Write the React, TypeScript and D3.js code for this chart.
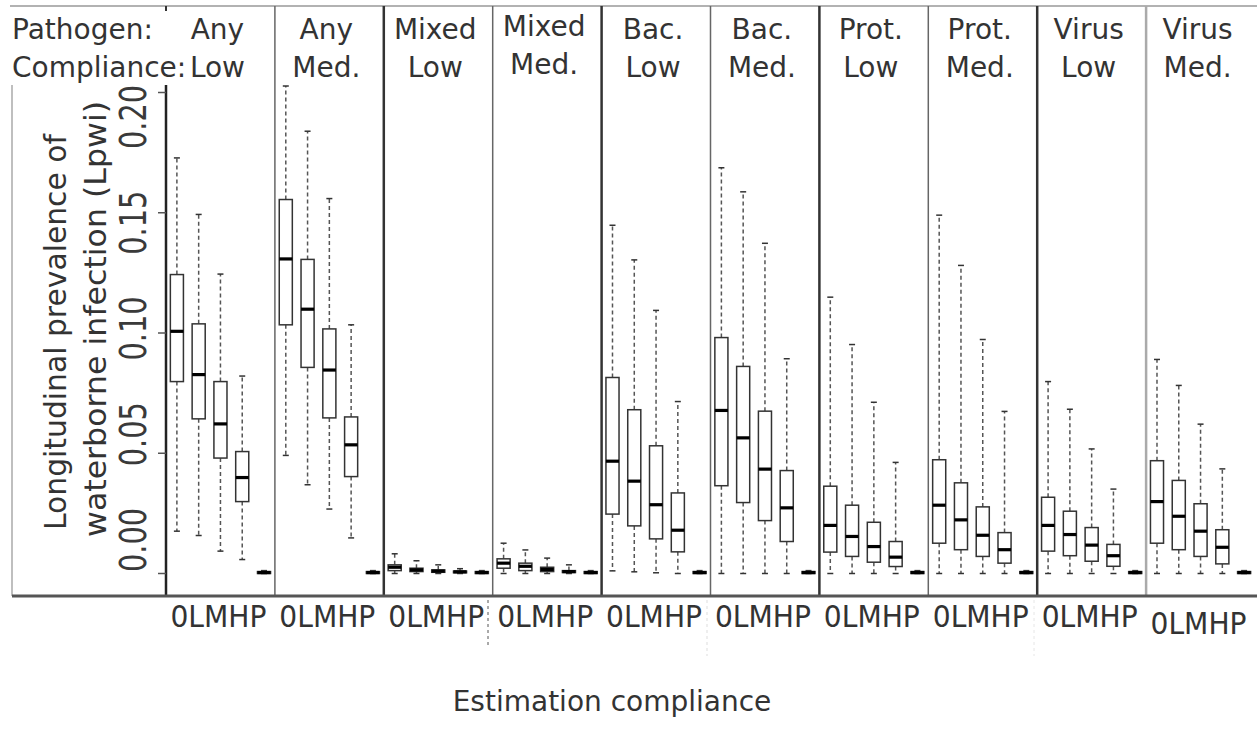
import React from "react";
import * as d3 from "d3";

// ---- data ----
const pathogens = ["Any", "Any", "Mixed", "Mixed", "Bac.", "Bac.", "Prot.", "Prot.", "Virus", "Virus"];
const compliances = ["Low", "Med.", "Low", "Med.", "Low", "Med.", "Low", "Med.", "Low", "Med."];
const levels = ["0", "L", "M", "H", "P"];
const yTicks = [0, 0.05, 0.1, 0.15, 0.2];

// each box: [lower whisker, Q1, median, Q3, upper whisker]
const pBox = [0, 0, 0.0004, 0.0008, 0.0012];
const anyLow = [
  [0.0176, 0.0798, 0.1007, 0.1243, 0.1728],
  [0.0158, 0.0643, 0.0827, 0.1038, 0.1493],
  [0.0093, 0.048, 0.0622, 0.0798, 0.1245],
  [0.0058, 0.0299, 0.0399, 0.0507, 0.0821],
  pBox,
];
const anyMed = [
  [0.0491, 0.1034, 0.1308, 0.1555, 0.2027],
  [0.0369, 0.0857, 0.1099, 0.1306, 0.1839],
  [0.0268, 0.0647, 0.0846, 0.1017, 0.1559],
  [0.0148, 0.0403, 0.0535, 0.0651, 0.1034],
  pBox,
];
const mixedLow = [
  [0, 0.0012, 0.0026, 0.0036, 0.0082],
  [0, 0.0008, 0.0015, 0.0022, 0.0053],
  [0, 0.0005, 0.001, 0.0015, 0.0036],
  [0, 0.0003, 0.0007, 0.001, 0.002],
  pBox,
];
const mixedMed = [
  [0, 0.0022, 0.0043, 0.0061, 0.0126],
  [0, 0.0012, 0.003, 0.0043, 0.0098],
  [0, 0.0008, 0.0017, 0.0026, 0.0064],
  [0, 0.0004, 0.0008, 0.0012, 0.0036],
  pBox,
];
const bacLow = [
  [0.0011, 0.0247, 0.0467, 0.0815, 0.1448],
  [0.0007, 0.0198, 0.0384, 0.0681, 0.1304],
  [0.0003, 0.0144, 0.0286, 0.0531, 0.1094],
  [0, 0.009, 0.018, 0.0335, 0.0715],
  pBox,
];
const bacMed = [
  [0, 0.0365, 0.0678, 0.0981, 0.1687],
  [0, 0.0295, 0.0564, 0.0861, 0.1587],
  [0, 0.022, 0.0434, 0.0675, 0.1373],
  [0, 0.0133, 0.0273, 0.0428, 0.0893],
  pBox,
];
const protLow = [
  [0, 0.0089, 0.02, 0.0363, 0.1149],
  [0, 0.0071, 0.0154, 0.0284, 0.0952],
  [0, 0.0047, 0.0112, 0.0213, 0.0712],
  [0, 0.0029, 0.0068, 0.0133, 0.0462],
  pBox,
];
const protMed = [
  [0, 0.0126, 0.0284, 0.0473, 0.149],
  [0, 0.0099, 0.0223, 0.0377, 0.1281],
  [0, 0.0071, 0.0159, 0.0277, 0.0973],
  [0, 0.0043, 0.0099, 0.017, 0.0674],
  pBox,
];
const virusLow = [
  [0, 0.0093, 0.02, 0.0317, 0.0798],
  [0, 0.0074, 0.0162, 0.0259, 0.0683],
  [0, 0.0051, 0.0118, 0.0191, 0.0518],
  [0, 0.003, 0.0074, 0.0121, 0.0351],
  pBox,
];
const virusMed = [
  [0, 0.0126, 0.0299, 0.0469, 0.089],
  [0, 0.0099, 0.0238, 0.0387, 0.0782],
  [0, 0.0071, 0.0176, 0.029, 0.0621],
  [0, 0.004, 0.0109, 0.0182, 0.0435],
  pBox,
];
const panelData = [anyLow, anyMed, mixedLow, mixedMed, bacLow, bacMed, protLow, protMed, virusLow, virusMed];

// ---- layout ----
const W = 1257;
const H = 744;
const TXT = "#333";
const FONT = "'DejaVu Sans', sans-serif";
const CFONT = "'DejaVu Sans Condensed', 'DejaVu Sans', sans-serif";

export default function App() {
  const panelX = d3.scaleBand<number>().domain(d3.range(panelData.length)).range([166, 1255]);
  const boxX = d3
    .scaleBand<string>()
    .domain(levels)
    .range([0, panelX.bandwidth()])
    .paddingInner(0.4)
    .paddingOuter(0.2);
  const y = d3.scaleLinear().domain([0, 0.2]).range([573.5, 92.5]);
  const yLab = d3.scaleLinear().domain([0, 0.2]).range([540, 117]);
  const fmt = d3.format(".2f");
  const bw = boxX.bandwidth();
  const cap = 6;
  const bottomY = 596;

  return (
    <svg
      width={W}
      height={H}
      style={{ position: "absolute", left: 0, top: 0, background: "#fff" }}
      xmlns="http://www.w3.org/2000/svg"
    >
      <rect x={0} y={0} width={W} height={H} fill="#fff" />
      {/* frame lines */}
      <line x1={10} x2={W} y1={6} y2={6} stroke="#999" strokeWidth={1.5} />
      <line x1={12} x2={12} y1={85} y2={bottomY} stroke="#aaa" strokeWidth={1.5} />
      <line x1={166} x2={166} y1={6} y2={11} stroke="#333" strokeWidth={2} />

      {/* panel dividers */}
      {d3.range(1, panelData.length).map((i) => {
        const x = panelX(i)!;
        const dark = i % 2 === 0;
        return (
          <line
            key={"div" + i}
            x1={x}
            x2={x}
            y1={6}
            y2={bottomY}
            stroke={i === 9 ? "#aaa" : dark ? "#333" : "#666"}
            strokeWidth={dark ? 2.5 : i === 9 ? 2.5 : 1.5}
          />
        );
      })}

      {/* y axis */}
      <line x1={166} x2={166} y1={85} y2={bottomY} stroke="#222" strokeWidth={2.5} />
      {yTicks.map((t) => (
        <g key={"t" + t}>
          <line x1={158} x2={166} y1={y(t)} y2={y(t)} stroke="#555" strokeWidth={1.5} />
          <text
            transform={`translate(146,${yLab(t)}) rotate(-90)`}
            textAnchor="middle"
            fontFamily={CFONT}
            fontSize={37}
            fill="#3a3a3a"
            textLength={64}
            lengthAdjust="spacingAndGlyphs"
          >
            {fmt(t)}
          </text>
        </g>
      ))}

      {/* y title */}
      <text
        transform="translate(66,332) rotate(-90)"
        textAnchor="middle"
        fontFamily={FONT}
        fontSize={30}
        fill={TXT}
        textLength={396}
        lengthAdjust="spacingAndGlyphs"
      >
        Longitudinal prevalence of
      </text>
      <text
        transform="translate(106,319) rotate(-90)"
        textAnchor="middle"
        fontFamily={FONT}
        fontSize={31}
        fill={TXT}
        textLength={436}
        lengthAdjust="spacingAndGlyphs"
      >
        waterborne infection (Lpwi)
      </text>

      {/* header */}
      <text x={12} y={39} fontFamily={FONT} fontSize={28} fill={TXT}>
        Pathogen:
      </text>
      <text x={12} y={77} fontFamily={FONT} fontSize={28} fill={TXT}>
        Compliance:
      </text>
      {pathogens.map((p, i) => {
        const cx = panelX(i)! + panelX.bandwidth() / 2 - 3;
        const dy = i === 3 ? -3 : 0;
        return (
          <g key={"h" + i}>
            <text x={cx} y={39 + dy} textAnchor="middle" fontFamily={FONT} fontSize={28} fill={TXT}>
              {p}
            </text>
            <text x={cx} y={77 + dy} textAnchor="middle" fontFamily={FONT} fontSize={28} fill={TXT}>
              {compliances[i]}
            </text>
          </g>
        );
      })}

      {/* boxes */}
      {panelData.map((boxes, pi) => (
        <g key={"p" + pi} transform={`translate(${panelX(pi)},0)`}>
          {boxes.map((b, bi) => {
            const x0 = boxX(levels[bi])!;
            const cx = x0 + bw / 2;
            const [lo, q1, med, q3, hi] = b;
            return (
              <g key={"b" + bi}>
                <line x1={cx} x2={cx} y1={y(q3)} y2={y(hi)} stroke="#555" strokeWidth={1.5} strokeDasharray="4,3" />
                <line x1={cx} x2={cx} y1={y(q1)} y2={y(lo)} stroke="#555" strokeWidth={1.5} strokeDasharray="4,3" />
                <line x1={cx - cap / 2} x2={cx + cap / 2} y1={y(hi)} y2={y(hi)} stroke="#333" strokeWidth={1.5} />
                <line x1={cx - cap / 2} x2={cx + cap / 2} y1={y(lo)} y2={y(lo)} stroke="#333" strokeWidth={1.5} />
                <rect
                  x={x0}
                  y={y(q3)}
                  width={bw}
                  height={Math.max(0, y(q1) - y(q3))}
                  fill="#fff"
                  stroke="#333"
                  strokeWidth={1.5}
                />
                <line x1={x0} x2={x0 + bw} y1={y(med)} y2={y(med)} stroke="#000" strokeWidth={3.2} />
              </g>
            );
          })}
        </g>
      ))}

      {/* bottom line */}
      <line x1={12} x2={W} y1={bottomY} y2={bottomY} stroke="#555" strokeWidth={3} />

      {/* artifact dotted separators below axis */}
      <line x1={488} x2={488} y1={600} y2={648} stroke="#555" strokeWidth={1} strokeDasharray="3,3" />
      <line x1={707} x2={707} y1={600} y2={656} stroke="#ddd" strokeWidth={1} strokeDasharray="3,3" />
      <line x1={1034} x2={1034} y1={600} y2={656} stroke="#e6e6e6" strokeWidth={1} strokeDasharray="3,3" />

      {/* x tick labels */}
      {pathogens.map((_, i) => (
        <text
          key={"xl" + i}
          x={panelX(i)! + panelX.bandwidth() / 2 - 2}
          y={i === 9 ? 634 : 627}
          textAnchor="middle"
          fontFamily={CFONT}
          fontSize={31}
          fill={TXT}
          textLength={96}
          lengthAdjust="spacingAndGlyphs"
        >
          {levels.join("")}
        </text>
      ))}

      {/* x title */}
      <text x={612} y={711} textAnchor="middle" fontFamily={FONT} fontSize={28} fill={TXT}>
        Estimation compliance
      </text>
    </svg>
  );
}
